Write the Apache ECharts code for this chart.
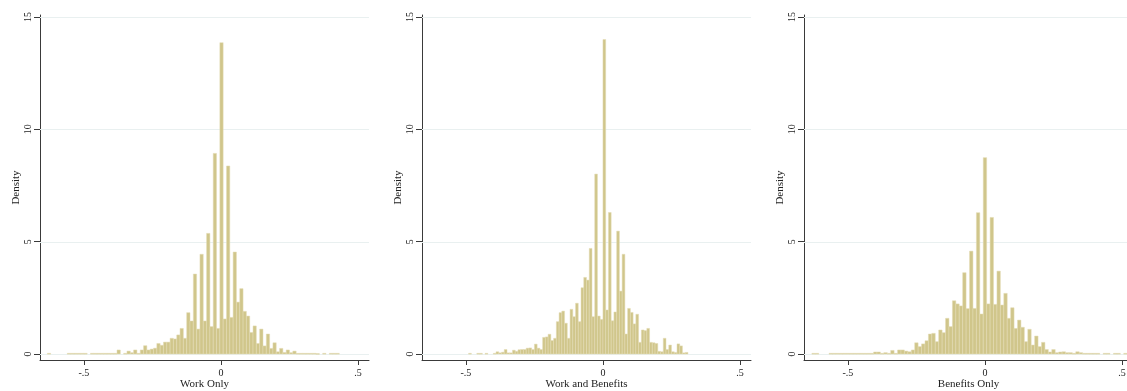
<!DOCTYPE html>
<html>
<head>
<meta charset="utf-8">
<title>Density histograms</title>
<script src="https://cdn.jsdelivr.net/npm/echarts@6/dist/echarts.min.js"></script>
<style>
  html, body { margin: 0; padding: 0; background: #fff; }
  #chart { width: 1127px; height: 391px; }
</style>
</head>
<body>
<div id="chart"></div>
<script>
// panel titles (x axis names)
const panelNames = ['Work Only', 'Work and Benefits', 'Benefits Only'];

// tick values / labels
const xTickValues = [-0.5, 0, 0.5];
const xTickLabels = ['-.5', '0', '.5'];
const yTickValues = [0, 5, 10, 15];

// left edge of the first bin and bin width, per panel
const workOnlyStart = -0.6332, workOnlyWidth = 0.0121;
const workBenefitsStart = -0.49, workBenefitsWidth = 0.01;
const benefitsOnlyStart = -0.63125, benefitsOnlyWidth = 0.0125;

// densities, bin by bin from left to right
const workOnly = [
    0.03, 0, 0, 0, 0, 0, 0.03, 0.03, 0.03, 0.03,
    0.03, 0.03, 0, 0.03, 0.03, 0.03, 0.03, 0.03, 0.03, 0.03,
    0.03, 0.18, 0, 0.03, 0.13, 0.06, 0.18, 0.03, 0.18, 0.37,
    0.18, 0.22, 0.26, 0.47, 0.39, 0.53, 0.53, 0.70, 0.67, 0.85,
    1.14, 0.70, 1.84, 1.47, 3.56, 1.11, 4.44, 1.47, 5.37, 1.22,
    8.93, 1.14, 13.86, 1.56, 8.37, 1.63, 4.54, 2.31, 2.91, 1.90,
    1.69, 0.96, 1.25, 0.47, 1.11, 0.36, 0.89, 0.25, 0.50, 0.10,
    0.25, 0.07, 0.18, 0.06, 0.13, 0.03, 0.03, 0.03, 0.03, 0.03,
    0.03, 0.02, 0, 0.03, 0, 0.03, 0.03, 0.03
];
const workBenefits = [
    0.03, 0, 0, 0.03, 0.03, 0, 0.03, 0, 0, 0.03,
    0.10, 0.05, 0.08, 0.20, 0.05, 0.05, 0.17, 0.12, 0.19, 0.20,
    0.20, 0.26, 0.27, 0.20, 0.44, 0.26, 0.20, 0.74, 0.76, 0.88,
    0.60, 0.70, 1.44, 1.84, 1.91, 1.37, 0.70, 1.99, 1.66, 2.26,
    1.44, 2.95, 3.41, 3.29, 4.70, 1.66, 8.01, 1.69, 1.54, 14.0,
    1.96, 6.30, 1.48, 1.87, 5.47, 2.80, 4.44, 0.89, 2.03, 1.85,
    1.34, 1.77, 0.52, 1.07, 1.04, 1.14, 0.52, 0.50, 0.47, 0.12,
    0.10, 0.70, 0.20, 0.40, 0.10, 0.07, 0.45, 0.36, 0.05, 0.07
];
const benefitsOnly = [
    0.03, 0.03, 0, 0, 0, 0.03, 0.03, 0.03, 0.03, 0.03,
    0.03, 0.03, 0.03, 0.03, 0.03, 0.03, 0.03, 0.03, 0.09, 0.09,
    0.03, 0.06, 0.03, 0.16, 0.03, 0.18, 0.18, 0.13, 0.10, 0.18,
    0.50, 0.33, 0.45, 0.59, 0.89, 0.92, 0.55, 1.07, 0.95, 1.59,
    1.22, 2.37, 2.23, 2.14, 3.62, 2.02, 4.58, 2.03, 6.29, 1.78,
    8.74, 2.23, 6.08, 2.21, 3.69, 2.18, 2.70, 1.59, 2.06, 1.14,
    1.51, 1.19, 0.55, 1.10, 0.40, 0.80, 0.33, 0.52, 0.20, 0.09,
    0.20, 0.06, 0.09, 0.10, 0.06, 0.06, 0.03, 0.10, 0.06, 0.03,
    0.03, 0.03, 0.03, 0.03, 0, 0.03, 0.03, 0, 0.03, 0.03, 0, 0.03
];

const FONT = '"Liberation Serif", "DejaVu Serif", serif';
const BAR_FILL = '#d0c68b';
const BAR_EDGE = '#e4ddb6';
const AXIS_COLOR = '#3a3a3a';
const GRID_COLOR = '#e9f0f0';

// [left, right, density] per bin
function toBins(start, width, heights) {
    return heights.map((h, i) => [start + i * width, start + (i + 1) * width, h]);
}

const panels = [
    toBins(workOnlyStart, workOnlyWidth, workOnly),
    toBins(workBenefitsStart, workBenefitsWidth, workBenefits),
    toBins(benefitsOnlyStart, benefitsOnlyWidth, benefitsOnly)
];
const gridLefts = [40, 422, 804];

let option = {
    backgroundColor: '#fff',
    animation: false,
    grid: [],
    xAxis: [],
    yAxis: [],
    series: []
};

panels.forEach((bins, idx) => {
    // fixed plot boxes, no auto shrinking for labels
    option.grid.push({
        left: gridLefts[idx], top: 15, width: 329, height: 345,
        containLabel: false,
        outerBoundsMode: 'none'
    });

    option.xAxis.push({
        type: 'value',
        gridIndex: idx,
        min: -0.66,
        max: 0.54,
        name: panelNames[idx],
        nameLocation: 'middle',
        nameGap: 19,
        nameMoveOverlap: false,
        nameTextStyle: { fontFamily: FONT, fontSize: 11, color: '#222' },
        axisLine: { show: true, onZero: false, lineStyle: { color: AXIS_COLOR, width: 1 } },
        axisTick: { show: true, length: 5, customValues: xTickValues, lineStyle: { color: AXIS_COLOR } },
        axisLabel: {
            customValues: xTickValues,
            margin: 8,
            fontFamily: FONT,
            fontSize: 10,
            color: '#222',
            formatter: function (v) {
                let i = xTickValues.findIndex(t => Math.abs(t - v) < 1e-9);
                return i >= 0 ? xTickLabels[i] : '';
            }
        },
        splitLine: { show: false }
    });

    option.yAxis.push({
        type: 'value',
        gridIndex: idx,
        min: -0.267,
        max: 15.09,
        name: 'Density',
        nameLocation: 'middle',
        nameGap: 17,
        nameTextStyle: { fontFamily: FONT, fontSize: 11, color: '#222' },
        axisLine: { show: true, onZero: false, lineStyle: { color: AXIS_COLOR, width: 1 } },
        axisTick: { show: true, length: 6, customValues: yTickValues, lineStyle: { color: AXIS_COLOR } },
        axisLabel: {
            customValues: yTickValues,
            rotate: 90,
            margin: 7,
            fontFamily: FONT,
            fontSize: 10,
            color: '#222'
        },
        splitLine: { show: false }
    });

    // horizontal gridlines behind the bars
    option.series.push({
        type: 'custom',
        xAxisIndex: idx,
        yAxisIndex: idx,
        silent: true,
        z: 1,
        data: yTickValues.map(v => [v]),
        encode: { y: 0 },
        renderItem: function (params, api) {
            let cs = params.coordSys;
            let y = Math.round(api.coord([0, api.value(0)])[1]) + 0.5;
            return {
                type: 'line',
                shape: { x1: cs.x, y1: y, x2: cs.x + cs.width, y2: y },
                style: { stroke: GRID_COLOR, lineWidth: 1 }
            };
        }
    });

    // histogram bars
    option.series.push({
        type: 'custom',
        xAxisIndex: idx,
        yAxisIndex: idx,
        z: 2,
        data: bins,
        encode: { x: [0, 1], y: 2 },
        renderItem: function (params, api) {
            let h = api.value(2);
            if (!h) return null;
            let p0 = api.coord([api.value(0), 0]);
            let p1 = api.coord([api.value(1), h]);
            return {
                type: 'rect',
                shape: { x: p0[0], y: p1[1], width: p1[0] - p0[0], height: Math.max(p0[1] - p1[1], 0.8) },
                style: { fill: BAR_FILL, stroke: BAR_EDGE, lineWidth: 0.5 }
            };
        }
    });
});

let chart = echarts.init(document.getElementById('chart'), null, { renderer: 'canvas' });
chart.setOption(option);
</script>
</body>
</html>
